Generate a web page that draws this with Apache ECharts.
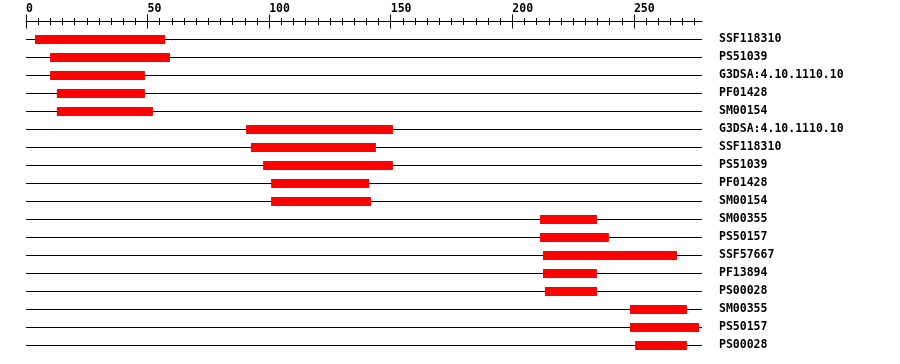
<!DOCTYPE html>
<html>
<head>
<meta charset="utf-8">
<script src="https://cdn.jsdelivr.net/npm/echarts@6/dist/echarts.min.js"></script>
<style>html,body{margin:0;padding:0;background:#fff}#c{width:900px;height:364px}</style>
</head>
<body>
<div id="c"></div>
<script>
// Sequence length (residues) and ruler ticks
const seqLength = 278;
const majorTickMax = 250;
const minorTickMax = 275;
const majorInterval = 50;
const minorInterval = 5;

// Row labels (top to bottom)
const rowLabels = [
  'SSF118310', 'PS51039', 'G3DSA:4.10.1110.10', 'PF01428', 'SM00154',
  'G3DSA:4.10.1110.10', 'SSF118310', 'PS51039', 'PF01428', 'SM00154',
  'SM00355', 'PS50157', 'SSF57667', 'PF13894', 'PS00028',
  'SM00355', 'PS50157', 'PS00028'
];
// Domain start / end positions per row
const domainStart = [3.7, 9.9, 9.9, 12.7, 12.7, 90.5, 92.5, 97.5, 100.8, 100.8,
  211.4, 211.4, 212.6, 212.6, 213.4, 248.4, 248.4, 250.5];
const domainEnd = [57.2, 59.2, 48.9, 48.9, 52.2, 150.9, 143.9, 150.9, 141.1, 141.9,
  234.8, 239.7, 267.7, 234.8, 234.8, 271.8, 276.8, 271.8];

const chart = echarts.init(document.getElementById('c'), null, {renderer: 'canvas'});

const gLeft = 26, gTop = 39, plotW = 676, plotH = 306;
const pxPerUnit = plotW / seqLength;
const font = '"DejaVu Sans Mono", monospace';

const data = rowLabels.map((_, i) => [domainStart[i], domainEnd[i], i]);

const option = {
  animation: false,
  backgroundColor: '#ffffff',
  grid: [
    {left: gLeft, top: gTop, width: plotW, height: plotH},
    {left: gLeft, top: gTop, width: majorTickMax * pxPerUnit, height: plotH},
    {left: gLeft, top: gTop, width: minorTickMax * pxPerUnit, height: plotH}
  ],
  xAxis: [
    {
      gridIndex: 0, type: 'value', min: 0, max: seqLength, position: 'top', offset: 18,
      axisLine: {show: true, onZero: false, lineStyle: {color: '#000', width: 1}},
      axisTick: {show: false}, axisLabel: {show: false}, splitLine: {show: false}
    },
    {
      gridIndex: 1, type: 'value', min: 0, max: majorTickMax, interval: majorInterval,
      position: 'top', offset: 10.5,
      axisLine: {show: false, onZero: false},
      axisTick: {show: true, length: 14, inside: false, lineStyle: {color: '#000', width: 1}},
      axisLabel: {show: true, margin: 13, align: 'left', color: '#000',
        fontFamily: font, fontWeight: 'bold', fontSize: 11.5},
      splitLine: {show: false}
    },
    {
      gridIndex: 2, type: 'value', min: 0, max: minorTickMax, interval: minorInterval,
      position: 'top', offset: 14,
      axisLine: {show: false, onZero: false},
      axisTick: {show: true, length: 7, inside: false, lineStyle: {color: '#000', width: 1}},
      axisLabel: {show: false}, splitLine: {show: false}
    }
  ],
  yAxis: [
    {
      gridIndex: 0, type: 'category', inverse: true, boundaryGap: false,
      position: 'right',
      data: rowLabels.map((_, i) => String(i)),
      axisLine: {show: false, onZero: false}, axisTick: {show: false},
      axisLabel: {show: true, margin: 17, color: '#000', fontFamily: font,
        fontWeight: 'bold', fontSize: 11.5, interval: 0,
        formatter: (v, i) => rowLabels[Number(v)]},
      splitLine: {show: true, interval: 0, lineStyle: {color: '#000', width: 1}}
    },
    {gridIndex: 1, type: 'value', show: false, min: 0, max: 1},
    {gridIndex: 2, type: 'value', show: false, min: 0, max: 1}
  ],
  series: [{
    type: 'custom',
    xAxisIndex: 0, yAxisIndex: 0,
    encode: {x: [0, 1], y: 2},
    data: data,
    renderItem: function (params, api) {
      const p0 = api.coord([api.value(0), api.value(2)]);
      const p1 = api.coord([api.value(1), api.value(2)]);
      return {
        type: 'rect',
        shape: {x: p0[0], y: p0[1] - 4, width: p1[0] - p0[0], height: 9},
        style: {fill: '#ff0000'}
      };
    }
  }]
};
chart.setOption(option);
</script>
</body>
</html>
